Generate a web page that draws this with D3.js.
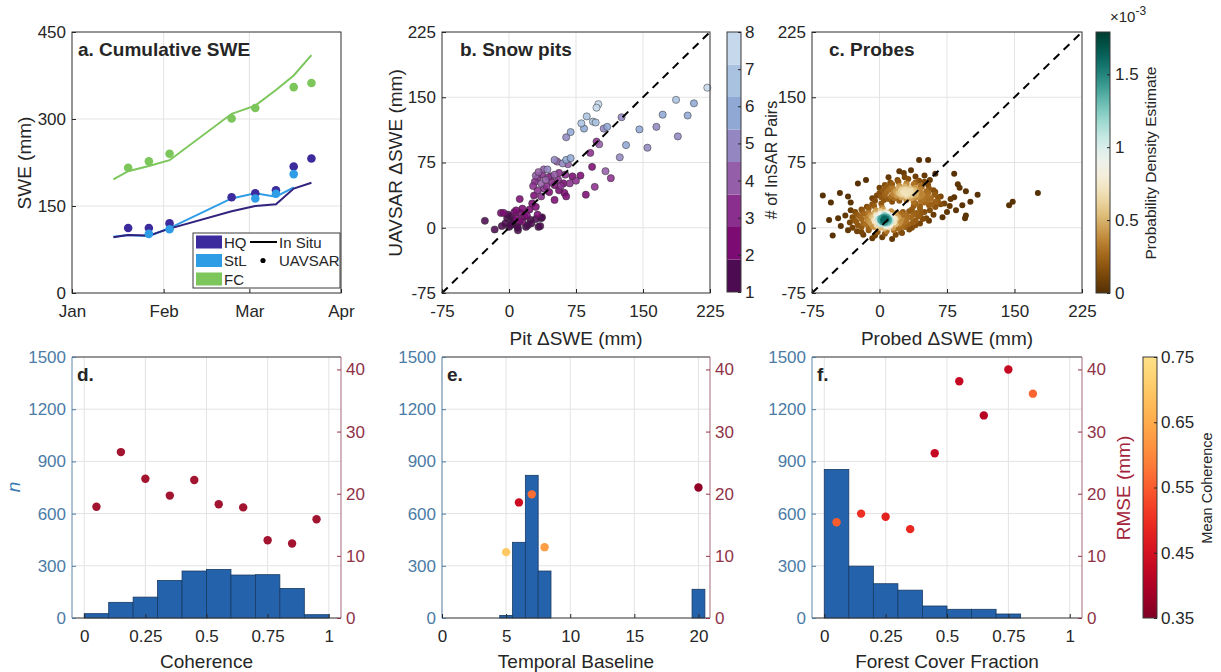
<!DOCTYPE html>
<html>
<head>
<meta charset="utf-8">
<script src="https://cdn.jsdelivr.net/npm/d3@7"></script>
<style>
  body { margin: 0; background: #fff; }
  svg text { font-family: Arial, "Liberation Sans", Helvetica, sans-serif; }
</style>
</head>
<body>
<svg id="fig" width="1221" height="672"></svg>
<script>
// ---------- a. cumulative SWE ----------
var inSituDates = ["2020-01-15", "2020-01-20", "2020-01-27", "2020-02-03", "2020-02-24", "2020-03-03", "2020-03-10", "2020-03-16", "2020-03-22"];
var hqInSitu  = [96, 100, 99, 111, 141, 150, 153, 180, 190];
var stlInSitu = [97, 100, 98, 112, 163, 172, 166, 182];
var fcInSitu  = [196, 210, 219, 229, 309, 323, 350, 375, 410];
var uavDates  = ["2020-01-20", "2020-01-27", "2020-02-03", "2020-02-24", "2020-03-03", "2020-03-10", "2020-03-16", "2020-03-22"];
var hqUavsar  = [112, 112, 120, 165, 172, 177, 218, 232];
var stlUavsar = [null, 102, 110, null, 163, 171, 205, null];
var fcUavsar  = [216, 227, 240, 301, 319, null, 355, 362];
var siteNames = ["HQ", "StL", "FC"];

// ---------- b. snow pits [pit dSWE, UAVSAR dSWE, # of InSAR pairs] ----------
var pitPoints = [
  [222,161,8],[100,142,8],[98,138,8],[87,128,7],[187,147,7],[207,143,6],[172,130,6],[200,129,6],
  [146,113,6],[165,116,5],[189,105,5],[155,92,5],[131,95,6],[124,81,5],[94,122,7],[81,120,7],
  [97,121,7],[84,114,6],[110,116,6],[106,114,5],[126,127,5],[69,110,6],[64,104,5],[98,99,3],
  [101,96,4],[91,86,3],[93,70,2],[80,60,2],[108,65,4],[114,57,3],[96,47,3],[86,38,2],
  [51,78,5],[54,76,4],[60,74,5],[64,78,6],[69,80,6],[66,73,4],[39,67,4],[43,67,5],
  [37,61,3],[32,57,3],[29,53,3],[36,51,4],[41,55,4],[47,59,3],[51,61,4],[56,63,3],
  [63,61,3],[71,59,2],[75,54,3],[68,51,3],[61,51,2],[51,49,2],[56,43,2],[62,40,2],
  [45,41,2],[36,36,3],[39,45,3],[32,43,3],[51,32,2],[64,36,2],[30,60,4],[33,64,4],
  [44,58,3],[48,52,3],[55,55,3],[58,48,3],[42,48,3],[27,48,3],
  [-27,8,1],[-16,-2,1],[-9,17,2],[-6,17,2],[-8,2,1],[-2,11,1],[2,13,1],[4,5,1],
  [8,11,2],[9,2,1],[13,17,2],[12,33,2],[15,7,2],[19,1,1],[21,3,1],[23,21,2],
  [26,28,2],[28,37,2],[32,15,2],[36,11,1],[33,1,1],[37,12,1],[6,18,2],[17,13,2],
  [0,1,1],[-4,5,1],[24,9,1],[30,24,2],[10,-3,1],[5,9,1],[12,8,2],[20,14,2],
  [15,22,2],[8,20,2],[-1,15,1],[25,5,1],[30,10,1],[35,2,1],[10,0,1],[2,3,1]
];
var pairColors = ["#4d0b52", "#7c0b74", "#8b2f8e", "#955ea9", "#9487c1", "#8fa9d4", "#a9c2e0", "#c6d8ec"];

// ---------- c. probes [probed dSWE, UAVSAR dSWE] ----------
var probePoints = [
  [-8,-12],[3,-11],[14,-13],[-18,-8],[-5,-9],[6,-7],[18,-8],[25,-6],
  [-25,-4],[-12,-3],[-2,-5],[8,-4],[16,-3],[24,-5],[33,-2],
  [-30,0],[-20,1],[-12,-1],[-6,1],[0,0],[5,-1],[10,1],[15,0],[21,-1],[28,1],[36,0],
  [-24,3],[-15,4],[-8,2],[-3,3],[2,4],[7,2],[12,3],[18,4],[25,2],[32,4],[40,3],
  [-33,6],[-26,7],[-18,5],[-10,6],[-5,7],[0,5],[3,7],[6,6],[9,5],[12,7],[16,6],[22,5],[29,7],[37,6],[45,5],
  [-28,9],[-20,10],[-12,8],[-6,9],[-2,10],[1,8],[4,9],[7,11],[10,9],[13,8],[18,10],[24,9],[31,11],[40,8],[48,10],
  [-30,12],[-22,13],[-14,11],[-8,12],[-3,13],[0,11],[3,12],[6,14],[9,12],[12,13],[16,11],[21,12],[27,14],[35,12],[43,13],[52,11],
  [-25,15],[-17,16],[-10,14],[-4,15],[1,16],[5,15],[9,16],[13,14],[18,15],[24,16],[30,14],[38,15],[46,16],
  [-27,18],[-19,19],[-12,17],[-5,18],[1,19],[7,18],[13,19],[19,17],[26,18],[33,19],[41,17],[50,18],
  [-20,21],[-12,22],[-4,20],[4,21],[36,21],[45,22],[56,20],[62,24],
  [-14,24],[-6,25],[3,23],[38,25],[-8,27],[2,28],
  [4,8],[8,10],[6,5],[2,11],[10,7],[5,12],[7,9],[3,6],[11,10],[8,13],[1,9],[5,10],
  [45,25],[55,26],[62,24],[68,27],[40,28],[50,29],[58,27],[65,30],[72,28],
  [-5,31],[5,32],[14,30],[22,31],[30,32],[38,30],[46,31],[54,32],[62,30],
  [-8,34],[2,35],[10,33],[17,34],[24,35],[30,33],[36,34],[42,35],[49,33],[57,34],[65,35],
  [-3,37],[6,38],[13,36],[19,37],[25,38],[30,36],[35,37],[40,38],[46,36],[53,37],[61,38],[68,36],
  [0,40],[8,41],[15,39],[21,40],[26,41],[31,39],[36,40],[41,41],[47,39],[54,40],[62,41],
  [4,43],[11,44],[18,42],[24,43],[29,44],[34,42],[39,43],[45,44],[52,42],[60,43],
  [0,46],[8,47],[15,45],[22,46],[28,47],[34,45],[40,46],[47,47],[55,45],
  [6,49],[14,50],[22,48],[30,49],[38,50],[46,48],[54,49],
  [12,52],[21,53],[30,51],[40,52],[50,53],[20,55],[32,56],[44,54],[56,55],[28,58],[40,59],
  [28,40],[33,42],[25,44],[30,38],[36,43],[23,39],
  [-63,37],[-54,29],[-44,40],[-35,36],[-32,29],[-24,51],[-56,9],[-46,11],[-43,2],[-52,-9],[-32,20],[-38,14],
  [44,78],[54,78],[22,65],[27,63],[35,66],[62,62],[83,62],[87,50],[89,46],[96,42],[109,38],[101,30],
  [79,33],[83,35],[92,26],[96,14],[95,11],[85,20],[75,18],[70,12],[78,25],
  [144,26],[148,30],[176,40],[-15,55],[10,58],[50,60],[-20,-5],[-35,-3],[60,15],[55,8]
];

// ---------- d. coherence ----------
var binCenters = [0.05, 0.15, 0.25, 0.35, 0.45, 0.55, 0.65, 0.75, 0.85, 0.95];
var cohCounts  = [25, 90, 120, 216, 270, 279, 247, 249, 170, 19];
var cohRmse    = [17.9, 26.7, 22.4, 19.7, 22.2, 18.3, 17.8, 12.5, 12.0, 15.9];

// ---------- e. temporal baseline ----------
var tbDays   = [5, 6, 7, 8, 20];
var tbCounts = [15, 435, 820, 270, 165];
var tbRmse   = [10.6, 18.6, 19.9, 11.4, 21.0];
var tbCoh    = [0.70, 0.44, 0.57, 0.63, 0.37];

// ---------- f. forest cover fraction ----------
var fcfCounts = [854, 298, 197, 160, 69, 50, 50, 23, 0, 0];
var fcfRmse   = [15.4, 16.8, 16.3, 14.3, 26.5, 38.1, 32.6, 40.0, 36.1, null];
var fcfCoh    = [0.55, 0.50, 0.48, 0.49, 0.43, 0.43, 0.41, 0.43, 0.56, null];

// ================= drawing =================
var svg = d3.select("#fig");
var FONT = "Arial, 'Liberation Sans', Helvetica, sans-serif";
var GRID = "#e3e3e3", INK = "#262626", BLUE_AX = "#4b7ba6", RED_AX = "#8f3347";
var siteColors = ["#3b2b9c", "#2e9de6", "#7cc65c"];
var lineColors = ["#31227e", "#2e9de6", "#7cc65c"];
var parseDay = d3.timeParse("%Y-%m-%d");
var plain = d => String(d);   // matlab style "-75", not a unicode minus

var boxA = {x0: 72, x1: 341, y0: 32, y1: 293};
var boxB = {x0: 442, x1: 710, y0: 32, y1: 293};
var boxC = {x0: 812, x1: 1082, y0: 32, y1: 293};
var boxD = {x0: 72, x1: 341, y0: 357, y1: 618};
var boxE = {x0: 442, x1: 710, y0: 357, y1: 618};
var boxF = {x0: 812, x1: 1082, y0: 357, y1: 618};

function drawGrid(box, x, y, xt, yt) {
  var g = svg.append("g");
  g.selectAll(null).data(xt).enter().append("line")
    .attr("x1", d => x(d)).attr("x2", d => x(d))
    .attr("y1", box.y0).attr("y2", box.y1).attr("stroke", GRID);
  g.selectAll(null).data(yt).enter().append("line")
    .attr("x1", box.x0).attr("x2", box.x1)
    .attr("y1", d => y(d)).attr("y2", d => y(d)).attr("stroke", GRID);
}

function styleAxis(sel, color) {
  sel.attr("font-family", FONT).attr("font-size", 17);
  sel.select(".domain").remove();
  sel.selectAll("text").attr("fill", color);
  sel.selectAll("line").attr("stroke", color);
}

function bottomAxis(box, x, ticks, fmt) {
  svg.append("g").attr("transform", `translate(0,${box.y1})`)
    .call(d3.axisBottom(x).tickValues(ticks).tickFormat(fmt).tickSize(-4).tickSizeOuter(0).tickPadding(12))
    .call(s => styleAxis(s, INK));
}

function leftAxis(box, y, ticks, color) {
  svg.append("g").attr("transform", `translate(${box.x0},0)`)
    .call(d3.axisLeft(y).tickValues(ticks).tickFormat(plain).tickSize(-4).tickSizeOuter(0).tickPadding(6))
    .call(s => styleAxis(s, color));
}

function rightAxis(box, y, ticks) {
  svg.append("g").attr("transform", `translate(${box.x1},0)`)
    .call(d3.axisRight(y).tickValues(ticks).tickSize(-4).tickSizeOuter(0).tickPadding(5))
    .call(s => styleAxis(s, RED_AX));
}

function frame(box) {
  svg.append("rect").attr("x", box.x0).attr("y", box.y0)
    .attr("width", box.x1 - box.x0).attr("height", box.y1 - box.y0)
    .attr("fill", "none").attr("stroke", "#3a3a3a").attr("stroke-width", 1);
}

function frame2(box) {
  var g = svg.append("g").attr("stroke-width", 1);
  g.append("line").attr("x1", box.x0).attr("x2", box.x1).attr("y1", box.y0).attr("y2", box.y0).attr("stroke", "#3a3a3a");
  g.append("line").attr("x1", box.x0).attr("x2", box.x1).attr("y1", box.y1).attr("y2", box.y1).attr("stroke", "#3a3a3a");
  g.append("line").attr("x1", box.x0).attr("x2", box.x0).attr("y1", box.y0).attr("y2", box.y1).attr("stroke", "#5f86a8");
  g.append("line").attr("x1", box.x1).attr("x2", box.x1).attr("y1", box.y0).attr("y2", box.y1).attr("stroke", "#a56a78");
}

function text(x, y, str, o) {
  o = o || {};
  var t = svg.append("text").attr("x", x).attr("y", y)
    .attr("font-size", o.size || 19).attr("fill", o.color || INK)
    .attr("text-anchor", o.anchor || "middle")
    .attr("font-weight", o.bold ? "bold" : null)
    .attr("font-style", o.italic ? "italic" : null)
    .text(str);
  if (o.rotate) t.attr("transform", `rotate(-90,${x},${y})`);
  return t;
}

// ----- panel a -----
var xA = d3.scaleTime().domain([new Date(2020, 0, 1), new Date(2020, 3, 1)]).range([boxA.x0, boxA.x1]);
var yA = d3.scaleLinear().domain([0, 450]).range([boxA.y1, boxA.y0]);
var monthTicks = [new Date(2020, 0, 1), new Date(2020, 1, 1), new Date(2020, 2, 1), new Date(2020, 3, 1)];
drawGrid(boxA, xA, yA, monthTicks, [0, 150, 300, 450]);

var inSitu = [hqInSitu, stlInSitu, fcInSitu];
var uav = [hqUavsar, stlUavsar, fcUavsar];
var lineA = d3.line().x(d => xA(d.date)).y(d => yA(d.v));
// StL first so the HQ line sits on top where they overlap
[1, 0, 2].forEach(function(i) {
  var pts = inSitu[i].map((v, k) => ({date: parseDay(inSituDates[k]), v: v}));
  svg.append("path").datum(pts).attr("d", lineA)
    .attr("fill", "none").attr("stroke", lineColors[i]).attr("stroke-width", 2);
});
uav.forEach(function(vals, i) {
  var pts = vals.map((v, k) => ({date: parseDay(uavDates[k]), v: v})).filter(d => d.v != null);
  svg.append("g").selectAll("circle").data(pts).enter().append("circle")
    .attr("cx", d => xA(d.date)).attr("cy", d => yA(d.v)).attr("r", 4.3)
    .attr("fill", siteColors[i]);
});
frame(boxA);
bottomAxis(boxA, xA, monthTicks, d3.timeFormat("%b"));
leftAxis(boxA, yA, [0, 150, 300, 450], INK);
text(31, 163, "SWE (mm)", {rotate: true});
text(78, 56, "a. Cumulative SWE", {anchor: "start", bold: true});

// legend
var lg = svg.append("g");
lg.append("rect").attr("x", 193).attr("y", 233).attr("width", 147).attr("height", 55)
  .attr("fill", "#fff").attr("stroke", "#3a3a3a");
siteNames.forEach(function(nm, i) {
  lg.append("rect").attr("x", 196).attr("y", 235.5 + i * 18.5).attr("width", 26).attr("height", 13)
    .attr("fill", siteColors[i]);
  lg.append("text").attr("x", 224).attr("y", 247.5 + i * 18.5).attr("font-size", 15).attr("fill", INK).text(nm);
});
lg.append("line").attr("x1", 250).attr("x2", 277).attr("y1", 242).attr("y2", 242).attr("stroke", "#000").attr("stroke-width", 2);
lg.append("text").attr("x", 279).attr("y", 247.5).attr("font-size", 15).attr("fill", INK).text("In Situ");
lg.append("circle").attr("cx", 263).attr("cy", 260.5).attr("r", 2.6).attr("fill", "#000");
lg.append("text").attr("x", 279).attr("y", 266).attr("font-size", 15).attr("fill", INK).text("UAVSAR");

// ----- panel b -----
var swTicks = [-75, 0, 75, 150, 225];
var xB = d3.scaleLinear().domain([-75, 225]).range([boxB.x0, boxB.x1]);
var yB = d3.scaleLinear().domain([-75, 225]).range([boxB.y1, boxB.y0]);
var pairScale = d3.scaleQuantize().domain([1, 8]).range(pairColors);
drawGrid(boxB, xB, yB, swTicks, swTicks);
svg.append("g").selectAll("circle").data(pitPoints.slice().sort((a, b) => a[2] - b[2])).enter().append("circle")
  .attr("cx", d => xB(d[0])).attr("cy", d => yB(d[1])).attr("r", 3.6)
  .attr("fill", d => pairScale(d[2])).attr("fill-opacity", 0.88)
  .attr("stroke", "#2b2b2b").attr("stroke-opacity", 0.7).attr("stroke-width", 0.7);
svg.append("line").attr("x1", xB(-75)).attr("y1", yB(-75)).attr("x2", xB(225)).attr("y2", yB(225))
  .attr("stroke", "#000").attr("stroke-width", 2).attr("stroke-dasharray", "8,6");
frame(boxB);
bottomAxis(boxB, xB, swTicks, plain);
leftAxis(boxB, yB, swTicks, INK);
text(402, 163, "UAVSAR \u0394SWE (mm)", {rotate: true});
text((boxB.x0 + boxB.x1) / 2, 344.5, "Pit \u0394SWE (mm)");
text(460, 56, "b. Snow pits", {anchor: "start", bold: true});

// colorbar b
var cbB = {x0: 727, x1: 741, y0: 32, y1: 292};
var yCbB = d3.scaleLinear().domain([1, 8]).range([cbB.y1, cbB.y0]);
svg.append("g").selectAll("rect").data(pairColors).enter().append("rect")
  .attr("x", cbB.x0).attr("width", cbB.x1 - cbB.x0)
  .attr("y", (d, i) => yCbB(1 + (i + 1) * 7 / 8)).attr("height", yCbB(1) - yCbB(1 + 7 / 8))
  .attr("fill", d => d);
svg.append("rect").attr("x", cbB.x0).attr("y", cbB.y0).attr("width", cbB.x1 - cbB.x0).attr("height", cbB.y1 - cbB.y0)
  .attr("fill", "none").attr("stroke", "#3a3a3a");
svg.append("g").attr("transform", `translate(${cbB.x1},0)`)
  .call(d3.axisRight(yCbB).tickValues(d3.range(1, 9)).tickFormat(d3.format("d")).tickSize(-3).tickSizeOuter(0).tickPadding(4))
  .call(s => styleAxis(s, INK));
text(777, 160, "# of InSAR Pairs", {rotate: true, size: 16});

// ----- panel c -----
var xC = d3.scaleLinear().domain([-75, 225]).range([boxC.x0, boxC.x1]);
var yC = d3.scaleLinear().domain([-75, 225]).range([boxC.y1, boxC.y0]);
drawGrid(boxC, xC, yC, swTicks, swTicks);
// 2-D kernel density estimate of the probe pairs
var bw = 6;
var probes = probePoints.map(function(p) {
  var s = 0;
  probePoints.forEach(function(q) {
    var dx = p[0] - q[0], dy = p[1] - q[1];
    s += Math.exp(-(dx * dx + dy * dy) / (2 * bw * bw));
  });
  return {x: p[0], y: p[1], k: s};
});
var kMax = d3.max(probes, d => d.k);
probes.forEach(d => { d.pde = Math.pow(d.k / kMax, 1.6) * 1.62; });
probes.sort((a, b) => a.pde - b.pde);
var pdeColor = d3.scaleSequential(d3.interpolateBrBG).domain([0, 1.79]);
svg.append("g").selectAll("circle").data(probes).enter().append("circle")
  .attr("cx", d => xC(d.x)).attr("cy", d => yC(d.y)).attr("r", 3)
  .attr("fill", d => pdeColor(d.pde));
svg.append("line").attr("x1", xC(-75)).attr("y1", yC(-75)).attr("x2", xC(225)).attr("y2", yC(225))
  .attr("stroke", "#000").attr("stroke-width", 2).attr("stroke-dasharray", "8,6");
frame(boxC);
bottomAxis(boxC, xC, swTicks, plain);
leftAxis(boxC, yC, swTicks, INK);
text((boxC.x0 + boxC.x1) / 2, 344.5, "Probed \u0394SWE (mm)");
text(829, 56, "c. Probes", {anchor: "start", bold: true});

// colorbar c
var cbC = {x0: 1096, x1: 1110, y0: 32, y1: 293};
var yCbC = d3.scaleLinear().domain([0, 1.79]).range([cbC.y1, cbC.y0]);
var defs = svg.append("defs");
var gradC = defs.append("linearGradient").attr("id", "gradC").attr("x1", 0).attr("y1", 1).attr("x2", 0).attr("y2", 0);
d3.range(0, 1.0001, 0.05).forEach(t => gradC.append("stop").attr("offset", t).attr("stop-color", pdeColor(t * 1.79)));
svg.append("rect").attr("x", cbC.x0).attr("y", cbC.y0).attr("width", cbC.x1 - cbC.x0).attr("height", cbC.y1 - cbC.y0)
  .attr("fill", "url(#gradC)").attr("stroke", "#3a3a3a");
svg.append("g").attr("transform", `translate(${cbC.x1},0)`)
  .call(d3.axisRight(yCbC).tickValues([0, 0.5, 1, 1.5]).tickFormat(plain).tickSize(-3).tickSizeOuter(0).tickPadding(5))
  .call(s => styleAxis(s, INK));
var expo = svg.append("text").attr("x", 1110).attr("y", 22).attr("font-size", 15).attr("fill", INK).text("\u00d710");
expo.append("tspan").attr("dy", -7).attr("font-size", 12).text("-3");
text(1156, 163, "Probability Density Estimate", {rotate: true, size: 15.5});

// ----- bottom row shared -----
function cohColor(v) { return d3.interpolateYlOrRd(1 - (v - 0.35) / 0.4 * 0.8); }
var nTicks = [0, 300, 600, 900, 1200, 1500];
var rTicks = [0, 10, 20, 30, 40];
var fracTicks = [0, 0.25, 0.5, 0.75, 1];

function barPanel(box, x, xt, centers, counts, width, rmse, colors, tag, xlab) {
  var yL = d3.scaleLinear().domain([0, 1500]).range([box.y1, box.y0]);
  var yR = d3.scaleLinear().domain([0, 42]).range([box.y1, box.y0]);
  drawGrid(box, x, yL, xt, nTicks);
  var bars = centers.map((c, i) => ({c: c, n: counts[i]})).filter(d => d.n > 0);
  svg.append("g").selectAll("rect").data(bars).enter().append("rect")
    .attr("x", d => x(d.c - width / 2)).attr("width", d => x(d.c + width / 2) - x(d.c - width / 2))
    .attr("y", d => yL(d.n)).attr("height", d => yL(0) - yL(d.n))
    .attr("fill", "#2462ac").attr("stroke", "#173a63").attr("stroke-width", 0.8);
  var pts = centers.map((c, i) => ({c: c, r: rmse[i], col: colors[i]})).filter(d => d.r != null);
  svg.append("g").selectAll("circle").data(pts).enter().append("circle")
    .attr("cx", d => x(d.c)).attr("cy", d => yR(d.r)).attr("r", 4.2)
    .attr("fill", d => d.col);
  frame2(box);
  bottomAxis(box, x, xt, plain);
  leftAxis(box, yL, nTicks, BLUE_AX);
  rightAxis(box, yR, rTicks);
  text((box.x0 + box.x1) / 2, 667.5, xlab);
  text(box.x0 + 5, 380.5, tag, {anchor: "start", bold: true});
}

// d
var xD = d3.scaleLinear().domain([-0.05, 1.05]).range([boxD.x0, boxD.x1]);
barPanel(boxD, xD, fracTicks, binCenters, cohCounts, 0.1, cohRmse,
  binCenters.map(() => "#a2142f"), "d.", "Coherence");
text(20, 487, "n", {rotate: true, italic: true, color: "#3d7ab0"});

// e
var xE = d3.scaleLinear().domain([0, 20.9]).range([boxE.x0, boxE.x1]);
barPanel(boxE, xE, [0, 5, 10, 15, 20], tbDays, tbCounts, 1, tbRmse,
  tbCoh.map(cohColor), "e.", "Temporal Baseline");

// f
var xF = d3.scaleLinear().domain([-0.05, 1.05]).range([boxF.x0, boxF.x1]);
barPanel(boxF, xF, fracTicks, binCenters, fcfCounts, 0.1, fcfRmse,
  fcfCoh.map(v => v == null ? null : cohColor(v)), "f.", "Forest Cover Fraction");
text(1130, 488, "RMSE (mm)", {rotate: true, color: "#a2243a"});

// colorbar f
var cbF = {x0: 1143, x1: 1157, y0: 357, y1: 618};
var yCbF = d3.scaleLinear().domain([0.35, 0.75]).range([cbF.y1, cbF.y0]);
var gradF = defs.append("linearGradient").attr("id", "gradF").attr("x1", 0).attr("y1", 1).attr("x2", 0).attr("y2", 0);
d3.range(0, 1.0001, 0.05).forEach(t => gradF.append("stop").attr("offset", t).attr("stop-color", cohColor(0.35 + t * 0.4)));
svg.append("rect").attr("x", cbF.x0).attr("y", cbF.y0).attr("width", cbF.x1 - cbF.x0).attr("height", cbF.y1 - cbF.y0)
  .attr("fill", "url(#gradF)").attr("stroke", "#3a3a3a");
svg.append("g").attr("transform", `translate(${cbF.x1},0)`)
  .call(d3.axisRight(yCbF).tickValues([0.35, 0.45, 0.55, 0.65, 0.75]).tickFormat(d3.format(".2f")).tickSize(-3).tickSizeOuter(0).tickPadding(4))
  .call(s => styleAxis(s, INK));
text(1212, 488, "Mean Coherence", {rotate: true, size: 14.5});
</script>
</body>
</html>
